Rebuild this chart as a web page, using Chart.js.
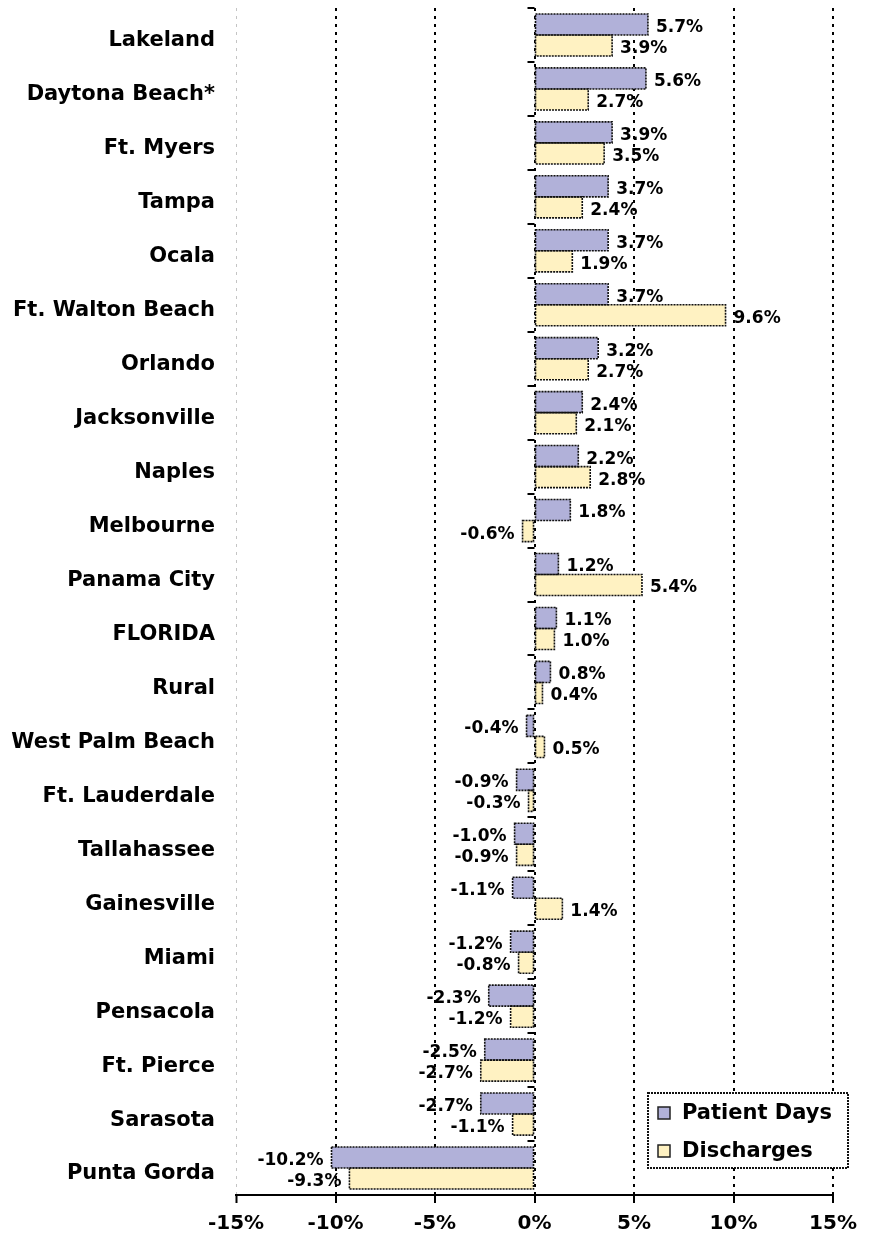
<!DOCTYPE html>
<html lang="en">
<head>
    <meta charset="UTF-8">
    <title>Change by market</title>
    <script src="https://cdn.jsdelivr.net/npm/chart.js@4.4.1/dist/chart.umd.min.js"></script>
    <style>
        body { margin: 0; background: #fff; }
        #wrap { width: 879px; height: 1235px; }
    </style>
</head>
<body>
<div id="wrap"><canvas id="barChart" width="879" height="1235"></canvas></div>
<script>
    // data
    var categories = ['Lakeland', 'Daytona Beach*', 'Ft. Myers', 'Tampa', 'Ocala', 'Ft. Walton Beach',
        'Orlando', 'Jacksonville', 'Naples', 'Melbourne', 'Panama City', 'FLORIDA', 'Rural',
        'West Palm Beach', 'Ft. Lauderdale', 'Tallahassee', 'Gainesville', 'Miami', 'Pensacola',
        'Ft. Pierce', 'Sarasota', 'Punta Gorda'];
    var patientDays = [5.7, 5.6, 3.9, 3.7, 3.7, 3.7, 3.2, 2.4, 2.2, 1.8, 1.2, 1.1, 0.8,
        -0.4, -0.9, -1.0, -1.1, -1.2, -2.3, -2.5, -2.7, -10.2];
    var discharges = [3.9, 2.7, 3.5, 2.4, 1.9, 9.6, 2.7, 2.1, 2.8, -0.6, 5.4, 1.0, 0.4,
        0.5, -0.3, -0.9, 1.4, -0.8, -1.2, -2.7, -1.1, -9.3];
    var seriesNames = ['Patient Days', 'Discharges'];
    var xTicks = [-15, -10, -5, 0, 5, 10, 15];

    var FONT = "'DejaVu Sans', sans-serif";

    // dotted outlines, value labels, little ticks on the zero line
    var barExtras = {
        id: 'barExtras',
        afterDatasetsDraw: function (chart) {
            var ctx = chart.ctx;
            var ca = chart.chartArea;
            var xs = chart.scales.x;
            var zero = xs.getPixelForValue(0);

            ctx.save();
            // category ticks on the zero line
            var band = (ca.bottom - ca.top) / categories.length;
            ctx.strokeStyle = '#000';
            ctx.lineWidth = 2;
            for (var i = 0; i <= categories.length; i++) {
                var yy = Math.round(ca.top + i * band);
                ctx.beginPath();
                ctx.moveTo(zero - 7, yy);
                ctx.lineTo(zero, yy);
                ctx.stroke();
            }

            chart.data.datasets.forEach(function (ds, di) {
                var meta = chart.getDatasetMeta(di);
                meta.data.forEach(function (el, i) {
                    var p = el.getProps(['x', 'y', 'base', 'height'], true);
                    var l = Math.min(p.x, p.base), r = Math.max(p.x, p.base);
                    var t = p.y - p.height / 2;
                    ctx.setLineDash([2, 1]);
                    ctx.lineWidth = 1.6;
                    ctx.strokeStyle = '#111';
                    ctx.strokeRect(l, t, r - l, p.height);
                    ctx.setLineDash([]);

                    var v = ds.data[i];
                    ctx.fillStyle = '#000';
                    ctx.font = 'bold 17px ' + FONT;
                    ctx.textBaseline = 'middle';
                    if (v >= 0) {
                        ctx.textAlign = 'left';
                        ctx.fillText(v.toFixed(1) + '%', p.x + 8, p.y + 3);
                    } else {
                        ctx.textAlign = 'right';
                        ctx.fillText(v.toFixed(1) + '%', p.x - 8, p.y + 3);
                    }
                });
            });
            ctx.restore();
        },
        afterDraw: function (chart) {
            // legend box in the bottom right corner
            var ctx = chart.ctx;
            var ca = chart.chartArea;
            var left = ca.right - 185, top = ca.bottom - 102, w = 200, h = 75;
            ctx.save();
            ctx.fillStyle = '#fff';
            ctx.fillRect(left, top, w, h);
            ctx.setLineDash([2, 1]);
            ctx.lineWidth = 2;
            ctx.strokeStyle = '#111';
            ctx.strokeRect(left, top, w, h);
            chart.data.datasets.forEach(function (ds, di) {
                var cy = top + 20 + di * 38;
                ctx.setLineDash([]);
                ctx.fillStyle = ds.backgroundColor;
                ctx.fillRect(left + 10, cy - 6, 12, 12);
                ctx.lineWidth = 1.5;
                ctx.strokeStyle = '#222';
                ctx.strokeRect(left + 10, cy - 6, 12, 12);
                ctx.fillStyle = '#000';
                ctx.font = 'bold 21px ' + FONT;
                ctx.textAlign = 'left';
                ctx.textBaseline = 'middle';
                ctx.fillText(ds.label, left + 34, cy + 1);
            });
            ctx.restore();
        }
    };

    var barChart = new Chart(document.getElementById('barChart').getContext('2d'), {
        type: 'bar',
        data: {
            labels: categories,
            datasets: [
                { label: seriesNames[0], data: patientDays, backgroundColor: '#B1B1D9', borderWidth: 0 },
                { label: seriesNames[1], data: discharges, backgroundColor: '#FFF2C2', borderWidth: 0 }
            ]
        },
        options: {
            indexAxis: 'y',
            responsive: false,
            animation: false,
            devicePixelRatio: 1,
            layout: { padding: { top: 8, right: 46, left: 0, bottom: 0 } },
            datasets: { bar: { barPercentage: 1, categoryPercentage: 0.78 } },
            plugins: { legend: { display: false }, tooltip: { enabled: false } },
            scales: {
                x: {
                    min: -15,
                    max: 15,
                    afterBuildTicks: function (scale) {
                        scale.ticks = xTicks.map(function (v) { return { value: v }; });
                    },
                    afterFit: function (scale) { scale.height = 40; },
                    grid: {
                        color: function (c) { return c.tick && c.tick.value === -15 ? '#c4c4c4' : '#000'; },
                        lineWidth: function (c) { return c.tick && c.tick.value === -15 ? 1 : 2; },
                        tickLength: 8,
                        tickColor: '#000',
                        tickWidth: 2
                    },
                    border: { display: true, color: '#000', width: 2, dash: [3, 5] },
                    ticks: {
                        color: '#000',
                        font: { family: FONT, size: 20, weight: 'bold' },
                        padding: 9,
                        callback: function (v) { return v + '%'; }
                    }
                },
                y: {
                    afterFit: function (scale) {
                        scale.width = 236;
                        scale.paddingTop = 0;
                        scale.paddingBottom = 0;
                    },
                    grid: { display: false },
                    border: { display: false },
                    ticks: {
                        color: '#000',
                        padding: 13,
                        labelOffset: 6,
                        font: { family: FONT, size: 21, weight: 'bold' }
                    }
                }
            }
        },
        plugins: [barExtras]
    });
</script>
</body>
</html>
